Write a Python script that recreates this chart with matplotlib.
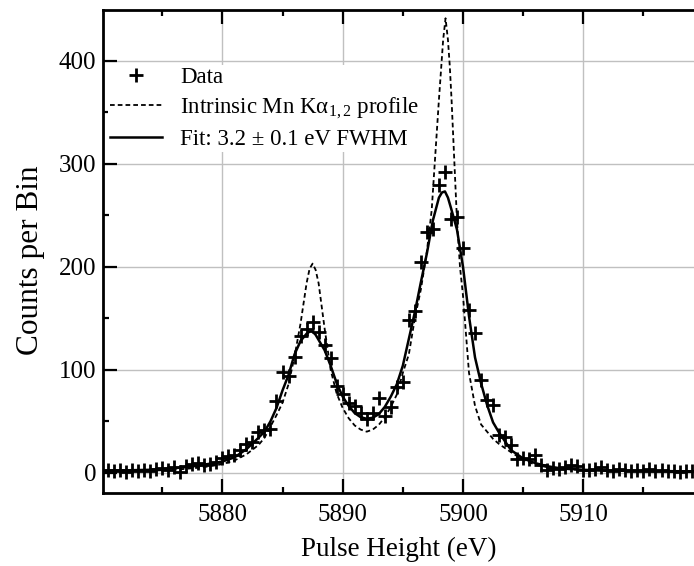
import numpy as np
import matplotlib
matplotlib.use("Agg")
import matplotlib.pyplot as plt
from matplotlib.ticker import MultipleLocator

# measured spectrum (0.5 eV bins)
data_e = [5870.5, 5871.0, 5871.5, 5872.0, 5872.5, 5873.0, 5873.5, 5874.0, 5874.5, 5875.0,
          5875.5, 5876.0, 5876.5, 5877.0, 5877.5, 5878.0, 5878.5, 5879.0, 5879.5, 5880.0,
          5880.5, 5881.0, 5881.5, 5882.0, 5882.5, 5883.0, 5883.5, 5884.0, 5884.5, 5885.0,
          5885.5, 5886.0, 5886.5, 5887.0, 5887.5, 5888.0, 5888.5, 5889.0, 5889.5, 5890.0,
          5890.5, 5891.0, 5891.5, 5892.0, 5892.5, 5893.0, 5893.5, 5894.0, 5894.5, 5895.0,
          5895.5, 5896.0, 5896.5, 5897.0, 5897.5, 5898.0, 5898.5, 5899.0, 5899.5, 5900.0,
          5900.5, 5901.0, 5901.5, 5902.0, 5902.5, 5903.0, 5903.5, 5904.0, 5904.5, 5905.0,
          5905.5, 5906.0, 5906.5, 5907.0, 5907.5, 5908.0, 5908.5, 5909.0, 5909.5, 5910.0,
          5910.5, 5911.0, 5911.5, 5912.0, 5912.5, 5913.0, 5913.5, 5914.0, 5914.5, 5915.0,
          5915.5, 5916.0, 5916.5, 5917.0, 5917.5, 5918.0, 5918.5, 5919.0]
data_counts = [3, 2, 3, 1, 3, 2, 3, 2, 4, 5,
               3, 6, 1, 7, 9, 10, 8, 9, 11, 14,
               16, 17, 22, 28, 30, 40, 42, 43, 70, 98,
               94, 112, 133, 140, 146, 137, 124, 111, 84, 77,
               68, 65, 58, 52, 58, 73, 55, 64, 83, 88,
               148, 157, 205, 234, 237, 279, 292, 246, 248, 218,
               158, 136, 90, 71, 66, 37, 35, 27, 13, 14,
               13, 17, 8, 3, 5, 4, 6, 8, 7, 3,
               3, 4, 6, 3, 2, 4, 3, 2, 3, 2,
               4, 2, 3, 2, 2, 1, 2, 2]

# fitted curve
fit_e = [5870, 5872, 5874, 5876, 5878, 5879, 5880, 5881, 5882, 5883,
         5883.5, 5884, 5884.5, 5885, 5885.5, 5886, 5886.5, 5887, 5887.25, 5887.5,
         5887.75, 5888, 5888.5, 5889, 5889.5, 5890, 5890.5, 5891, 5891.5, 5892,
         5892.5, 5893, 5893.5, 5894, 5894.5, 5895, 5895.5, 5896, 5896.5, 5897,
         5897.5, 5898, 5898.25, 5898.5, 5898.75, 5899, 5899.5, 5900, 5900.5, 5901,
         5901.5, 5902, 5902.5, 5903, 5904, 5905, 5906, 5907, 5908, 5910,
         5912, 5914, 5916, 5919.2]
fit_counts = [2, 2.5, 3, 4.5, 7, 9, 11, 15, 23, 34,
              40, 50, 63, 80, 95, 115, 128, 135, 137, 137,
              134, 129, 119, 104, 87, 74, 65, 58, 54, 52.5,
              53.5, 57, 64, 74, 86, 104, 130, 156, 185, 213,
              245, 267, 272, 273, 267, 257, 236, 200, 152, 112,
              87, 66, 49, 39, 22, 14, 9.5, 6.5, 4.6, 3,
              2.2, 2, 1.8, 1.5]

# intrinsic line profile
intr_e = [5870, 5872, 5874, 5876, 5878, 5879, 5880, 5881, 5882, 5883,
          5883.5, 5884, 5884.5, 5885, 5885.5, 5886, 5886.5, 5887, 5887.25, 5887.5,
          5887.75, 5888, 5888.5, 5889, 5889.5, 5890, 5890.5, 5891, 5891.5, 5892,
          5892.5, 5893, 5893.5, 5894, 5894.5, 5895, 5895.5, 5896, 5896.5, 5896.8,
          5897, 5897.4, 5897.6, 5898, 5898.2, 5898.35, 5898.55, 5898.75, 5898.9, 5899.05,
          5899.3, 5899.5, 5899.75, 5900, 5900.5, 5901, 5901.5, 5902, 5902.5, 5903,
          5904, 5905, 5906, 5907, 5908, 5910, 5912, 5914, 5916, 5919.2]
intr_counts = [1.5, 1.8, 2.2, 3, 5, 6.5, 8.5, 12, 18, 27,
               34, 45, 56, 68, 86, 113, 145, 184, 198, 203,
               197, 184, 140, 100, 77, 63, 53, 46, 42, 40,
               42, 46.6, 54, 64, 76, 97, 115, 150, 178, 200,
               215, 255, 291, 362, 395, 420, 441, 420, 395, 362,
               297, 245, 200, 172, 97, 65, 47, 40, 33, 28,
               20, 12.6, 8, 5.5, 4, 2.8, 2, 1.8, 1.5, 1.3]

plt.rcParams['font.family'] = ['Liberation Serif', 'DejaVu Serif']
plt.rcParams['mathtext.fontset'] = 'custom'
plt.rcParams['mathtext.rm'] = 'Liberation Serif'
plt.rcParams['mathtext.it'] = 'Liberation Serif:italic'

fig = plt.figure(figsize=(6.94, 5.66), dpi=100)
ax = fig.add_axes([103 / 694, 73 / 566, 591 / 694, 483 / 566])

ax.plot(intr_e, intr_counts, color='black', lw=1.3, ls=(0, (2.6, 1.7)),
        label=r'Intrinsic Mn Kα$_{1,2}$ profile', zorder=3)
ax.plot(fit_e, fit_counts, color='black', lw=1.8,
        label='Fit: 3.2 ± 0.1 eV FWHM', zorder=4)
ax.plot(data_e, data_counts, ls='none', marker='+', ms=10, mew=2,
        color='black', label='Data', zorder=5)

ax.set_xlim(5870.08, 5919.2)
ax.set_ylim(-19.5, 449)

ax.xaxis.set_major_locator(MultipleLocator(10))
ax.xaxis.set_minor_locator(MultipleLocator(5))
ax.yaxis.set_major_locator(MultipleLocator(100))
ax.yaxis.set_minor_locator(MultipleLocator(50))

ax.grid(True, which='major', color='#c0c0c0', lw=1.0)
ax.set_axisbelow(True)

for side in ['left', 'bottom', 'top']:
    ax.spines[side].set_linewidth(2)
ax.spines['right'].set_visible(False)

ax.tick_params(which='both', direction='in', top=True, right=False, width=1.6)
ax.tick_params(which='major', length=10, labelsize=18)
ax.tick_params(which='minor', length=4.5)
ax.tick_params(axis='x', pad=8)
ax.tick_params(axis='y', pad=5)

ax.set_xlabel('Pulse Height (eV)', fontsize=19.5, labelpad=8)
ax.set_ylabel('Counts per Bin', fontsize=22.5)
ax.yaxis.set_label_coords(-0.098, 0.482)

handles, labels = ax.get_legend_handles_labels()
order = [2, 0, 1]
leg = ax.legend([handles[i] for i in order], [labels[i] for i in order],
                loc='upper left', bbox_to_anchor=(5 / 591, (493 - 64.5) / 483),
                borderaxespad=0, fontsize=16.5, frameon=True, fancybox=False,
                framealpha=1, edgecolor='none', facecolor='white',
                handlelength=2.25, handletextpad=0.8, labelspacing=0.35,
                borderpad=0.1, numpoints=1)

fig.savefig('out.png', dpi=100)
